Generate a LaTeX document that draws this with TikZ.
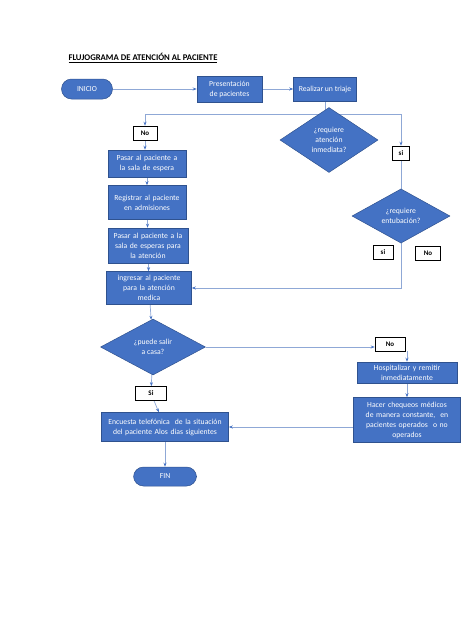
\documentclass[tikz,border=0pt]{standalone}
\usepackage{fontspec}
\setmainfont{Carlito}
\usetikzlibrary{positioning, shapes.geometric, backgrounds, arrows.meta}

\definecolor{boxblue}{HTML}{4472C4}
\definecolor{boxedge}{HTML}{2F528F}
\definecolor{flowline}{HTML}{8FA8D6}

\begin{document}
\begin{tikzpicture}[
        x=1pt, y=-1pt,
        font=\fontsize{7.7}{10}\selectfont,
        node distance=8pt,
        >={Stealth[length=4pt, width=3pt, color=boxblue]},
        box/.style={
            draw=boxedge,
            fill=boxblue,
            text=white,
            align=center,
            inner sep=1.5pt,
            line width=0.5pt
        },
        terminal/.style={
            draw=boxedge,
            fill=boxblue,
            text=white,
            rounded corners=10pt,
            minimum width=51pt,
            minimum height=20pt,
            line width=0.5pt
        },
        decision/.style={
            diamond,
            draw=boxedge,
            fill=boxblue,
            text=white,
            align=center,
            aspect=1,
            inner sep=0pt,
            line width=0.5pt
        },
        tag/.style={
            draw=black,
            fill=white,
            font=\fontsize{7}{8}\selectfont\bfseries,
            inner sep=0pt,
            minimum height=14pt,
            line width=0.6pt
        },
        flow/.style={draw=flowline, line width=0.7pt}
    ]
    \useasboundingbox (0,0) rectangle (474,632);

    \node[font=\fontsize{8.7}{10}\selectfont\bfseries] (title) at (143,58) {\underline{FLUJOGRAMA DE ATENCIÓN AL PACIENTE}};

    \node[terminal] (inicio) at (87,89) {INICIO};
    \node[box, minimum width=65pt, minimum height=26pt, right=84pt of inicio] (present) {Presentación\\de pacientes};
    \node[box, minimum width=63pt, minimum height=24pt, right=31pt of present] (triaje) {Realizar un triaje};
    \node[decision, minimum width=98pt, minimum height=65pt, below=6pt of triaje, xshift=4pt] (atencion) {¿requiere\\atención\\inmediata?};

    \node[tag, minimum width=24pt] (no1) at (145,133) {No};
    \node[tag, minimum width=17pt] (si1) at (401,153) {si};

    \node[decision, minimum width=98pt, minimum height=50pt] (entub) at (401,216) {¿requiere\\entubación?};
    \node[tag, minimum width=20pt] (si2) at (383,252) {si};
    \node[tag, minimum width=25pt] (no2) at (428,253) {No};

    \node[box, text width=75pt, minimum height=27pt] (sala) at (147,163.5) {Pasar al paciente a\\la sala de espera};
    \node[box, text width=75pt, minimum height=34pt, below=of sala] (registro) {Registrar al paciente\\en admisiones};
    \node[box, text width=77pt, minimum height=35pt, below=of registro, xshift=1pt] (esperas) {Pasar al paciente a la\\sala de esperas para\\la atención};
    \node[box, text width=82pt, minimum height=33pt, below=of esperas, xshift=1pt] (ingreso) {ingresar al paciente\\para la atención\\medica};

    \node[decision, minimum width=105pt, minimum height=56pt, below=14pt of ingreso, xshift=4pt] (salida) {¿puede salir\\a casa?};
    \node[tag, minimum width=31pt, below=11pt of salida, xshift=-2pt] (si3) {Si};
    \node[box, text width=124pt, minimum height=29pt] (encuesta) at (165,427) {Encuesta telefónica\ \ de la situación\\del paciente Alos dias siguientes};
    \node[terminal, minimum width=63pt, minimum height=19pt, below=25pt of encuesta] (fin) {FIN};

    \node[tag, minimum width=30pt] (no3) at (390,344) {No};
    \node[box, text width=97pt, minimum height=21pt, inner ysep=0.5pt] (hospital) at (407,372.5) {Hospitalizar y remitir\\inmediatamente};
    \node[box, text width=104pt, minimum height=45pt, below=14pt of hospital] (chequeo) {Hacer chequeos médicos\\de manera constante,\ \ en\\pacientes operados\ \ o no\\operados};

    \begin{pgfonlayer}{background}
    \draw[flow, ->] (inicio) -- (present);
    \draw[flow, ->] (present) -- (triaje);
    \draw[flow] (triaje.south) -- ++(0,13) coordinate (split);
    \draw[flow, ->] (split) -| (no1.north);
    \draw[flow, ->] (split) -| (si1.north);
    \draw[flow, ->] (no1.south) -- (no1.south |- sala.north);
    \draw[flow] (si1.south) -- (entub.north);
    \draw[flow, ->] (entub.south) |- (ingreso.east);
    \draw[flow, ->] (sala) -- (registro);
    \draw[flow, ->] (registro) -- (esperas);
    \draw[flow, ->] (esperas) -- (ingreso);
    \draw[flow, ->] (ingreso) -- (salida);
    \draw[flow, ->] (salida) -- (si3);
    \draw[flow, ->] (si3) -- (encuesta);
    \draw[flow, ->] (salida.east) -- (salida.east -| no3.west);
    \draw[flow, ->] (hospital.north |- no3.south) -- (hospital.north);
    \draw[flow, ->] (hospital) -- (chequeo);
    \draw[flow, ->] (encuesta.east -| chequeo.west) -- (encuesta.east);
    \draw[flow, ->] (encuesta) -- (fin);
    \end{pgfonlayer}
\end{tikzpicture}
\end{document}
